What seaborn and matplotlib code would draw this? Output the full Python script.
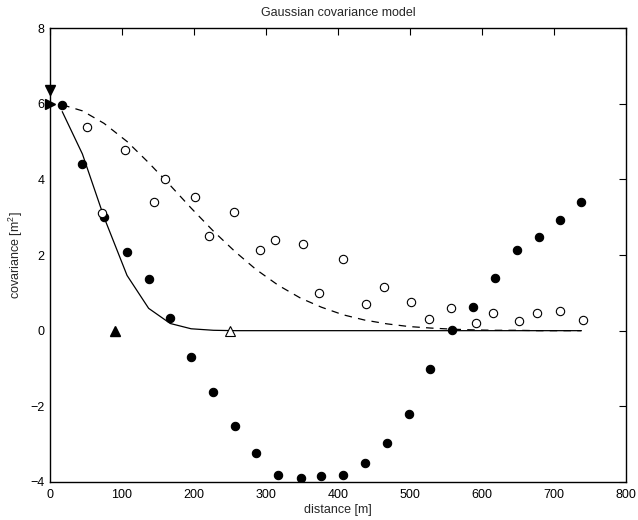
import matplotlib
matplotlib.use("Agg")
import matplotlib.pyplot as plt
import numpy as np
import pandas as pd
import seaborn as sns

# Experimental covariance, data set A (filled circles)
lag_a = [17, 45, 75, 107, 137, 167, 196, 227, 257, 286, 317, 348, 377, 407,
         437, 468, 498, 528, 558, 588, 618, 648, 679, 709, 738]
cov_a = [5.97, 4.41, 3.01, 2.07, 1.37, 0.33, -0.69, -1.61, -2.53, -3.24, -3.81,
         -3.89, -3.84, -3.82, -3.51, -2.98, -2.19, -1.01, 0.02, 0.63, 1.38,
         2.13, 2.47, 2.92, 3.40]

# Experimental covariance, data set B (open circles)
lag_b = [51, 72, 104, 144, 160, 202, 221, 256, 291, 313, 352, 374, 407, 439,
         464, 501, 526, 557, 591, 615, 652, 676, 708, 740]
cov_b = [5.38, 3.12, 4.78, 3.39, 4.02, 3.52, 2.50, 3.14, 2.13, 2.39, 2.30, 0.99,
         1.89, 0.71, 1.16, 0.77, 0.32, 0.61, 0.21, 0.46, 0.26, 0.46, 0.53, 0.28]

# Fitted Gaussian models at the lag centres
model_short = [5.79, 4.67, 3.00, 1.46, 0.59, 0.19, 0.05, 0.01, 0.0, 0.0, 0.0,
               0.0, 0.0, 0.0, 0.0, 0.0, 0.0, 0.0, 0.0, 0.0, 0.0, 0.0, 0.0, 0.0, 0.0]
model_long = [5.97, 5.81, 5.48, 5.00, 4.44, 3.84, 3.24, 2.63, 2.09, 1.62, 1.20,
              0.86, 0.62, 0.42, 0.28, 0.18, 0.11, 0.07, 0.04, 0.02, 0.01, 0.01,
              0.0, 0.0, 0.0]

# Range and sill markers
range_short = 90
range_long = 250
sill = 6.0
sill_b = 6.36

xticks = [0, 100, 200, 300, 400, 500, 600, 700, 800]
yticks = [-4, -2, 0, 2, 4, 6, 8]

sns.set_theme(style="white")
plt.rcParams["font.family"] = ["Liberation Sans", "DejaVu Sans"]
plt.rcParams["mathtext.fontset"] = "custom"
plt.rcParams["mathtext.rm"] = "Liberation Sans"
plt.rcParams["mathtext.it"] = "Liberation Sans"

fig = plt.figure(figsize=(6.38, 5.2), dpi=100)
ax = fig.add_axes([50 / 638, 1 - 482 / 520, 576 / 638, 454 / 520])

df_a = pd.DataFrame({"lag": lag_a, "cov": cov_a, "short": model_short, "long": model_long})
df_b = pd.DataFrame({"lag": lag_b, "cov": cov_b})

sns.lineplot(data=df_a, x="lag", y="short", ax=ax, color="black", lw=0.9,
             estimator=None, sort=False)
sns.lineplot(data=df_a, x="lag", y="long", ax=ax, color="black", lw=0.9,
             estimator=None, sort=False)
ax.lines[-1].set_dashes([6, 5])

sns.scatterplot(data=df_a, x="lag", y="cov", ax=ax, color="black", s=36,
                edgecolor="black", linewidth=0.8, zorder=3)
sns.scatterplot(data=df_b, x="lag", y="cov", ax=ax, facecolor="white", s=36,
                edgecolor="black", linewidth=0.8, zorder=3)

ax.plot([range_short], [0], marker="^", color="black", ms=6.5, ls="none", zorder=4)
ax.plot([range_long], [0], marker="^", mfc="white", mec="black", mew=0.8, ms=6.5,
        ls="none", zorder=4)
ax.plot([0], [sill], marker=">", color="black", ms=6.5, ls="none", clip_on=False, zorder=5)
ax.plot([0], [sill_b], marker="v", color="black", ms=6.5, ls="none", clip_on=False, zorder=5)

ax.set_xlim(0, 800)
ax.set_ylim(-4, 8)
ax.set_xticks(xticks)
ax.set_yticks(yticks)
ax.set_xticklabels([str(t) for t in xticks])
ax.set_yticklabels([str(t).replace("-", "\u2212") for t in yticks])

for side in ax.spines.values():
    side.set_visible(True)
    side.set_color("black")
    side.set_linewidth(1.0)
ax.tick_params(direction="in", length=5, width=0.8, top=True, right=True,
               labelsize=9, colors="black")
ax.tick_params(axis="x", pad=5)
ax.tick_params(axis="y", pad=4)

ax.set_xlabel("distance [m]", fontsize=9, labelpad=2)
ax.set_ylabel("covariance [m$^2$]", fontsize=9, labelpad=4)
ax.set_title("Gaussian covariance model", fontsize=9, pad=9)

fig.savefig("out.png", dpi=100, facecolor="white")
